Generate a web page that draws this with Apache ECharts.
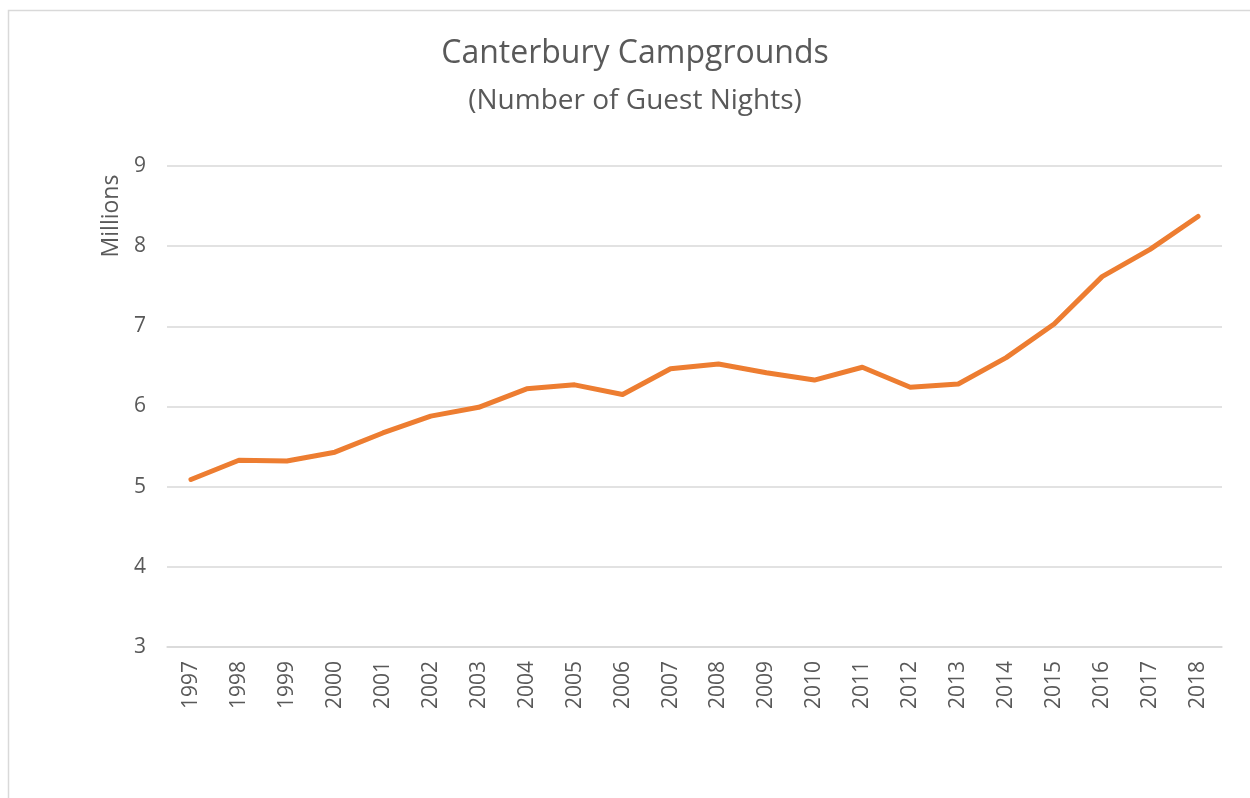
<!DOCTYPE html>
<html>
<head>
<meta charset="utf-8">
<script src="https://cdn.jsdelivr.net/npm/echarts@6/dist/echarts.min.js"></script>
<style>
  html, body { margin: 0; padding: 0; background: #fff; }
  #chart { width: 1250px; height: 798px; }
</style>
</head>
<body>
<div id="chart"></div>
<script>
const years = ['1997','1998','1999','2000','2001','2002','2003','2004','2005','2006','2007','2008','2009','2010','2011','2012','2013','2014','2015','2016','2017','2018'];
const guestNights = [5.09, 5.33, 5.32, 5.43, 5.67, 5.88, 5.99, 6.22, 6.27, 6.15, 6.47, 6.53, 6.42, 6.33, 6.49, 6.24, 6.28, 6.61, 7.03, 7.62, 7.96, 8.37];
const titleText = 'Canterbury Campgrounds';
const subtitleText = '(Number of Guest Nights)';
const yAxisName = 'Millions';

const FONT = '"Open Sans", sans-serif';
const TXT = '#595959';

const chart = echarts.init(document.getElementById('chart'));
chart.setOption({
  backgroundColor: '#fff',
  animation: false,
  title: {
    text: titleText,
    subtext: subtitleText,
    left: 630,
    textAlign: 'center',
    top: 33,
    itemGap: 17,
    textStyle: { fontFamily: FONT, fontSize: 32, fontWeight: 'normal', color: TXT },
    subtextStyle: { fontFamily: FONT, fontSize: 28, color: TXT }
  },
  graphic: [
    {
      type: 'rect', left: 6, top: 8, z: -1,
      shape: { width: 1260, height: 800 },
      style: { fill: 'none', stroke: '#D9D9D9', lineWidth: 1.5 }
    },
    {
      type: 'text', x: 111, y: 216, rotation: Math.PI / 2,
      style: { text: yAxisName, fill: TXT, font: '23px ' + FONT, align: 'center', verticalAlign: 'middle' }
    }
  ],
  grid: { left: 167, right: 28, top: 166, bottom: 151, containLabel: false },
  xAxis: {
    type: 'category',
    data: years,
    boundaryGap: true,
    axisLine: { show: true, lineStyle: { color: '#D9D9D9', width: 1.5 } },
    axisTick: { show: false },
    axisLabel: { rotate: 90, color: TXT, fontFamily: FONT, fontSize: 21, margin: 14, interval: 0 }
  },
  yAxis: {
    type: 'value',
    min: 3, max: 9, interval: 1,
    axisLine: { show: false },
    axisTick: { show: false },
    splitLine: { lineStyle: { color: '#D9D9D9', width: 1.5 } },
    axisLabel: { color: TXT, fontFamily: FONT, fontSize: 21, margin: 21 }
  },
  series: [{
    type: 'line',
    data: guestNights,
    symbol: 'none',
    smooth: false,
    lineStyle: { color: '#ED7D31', width: 5, cap: 'round', join: 'round' }
  }]
});
</script>
</body>
</html>
